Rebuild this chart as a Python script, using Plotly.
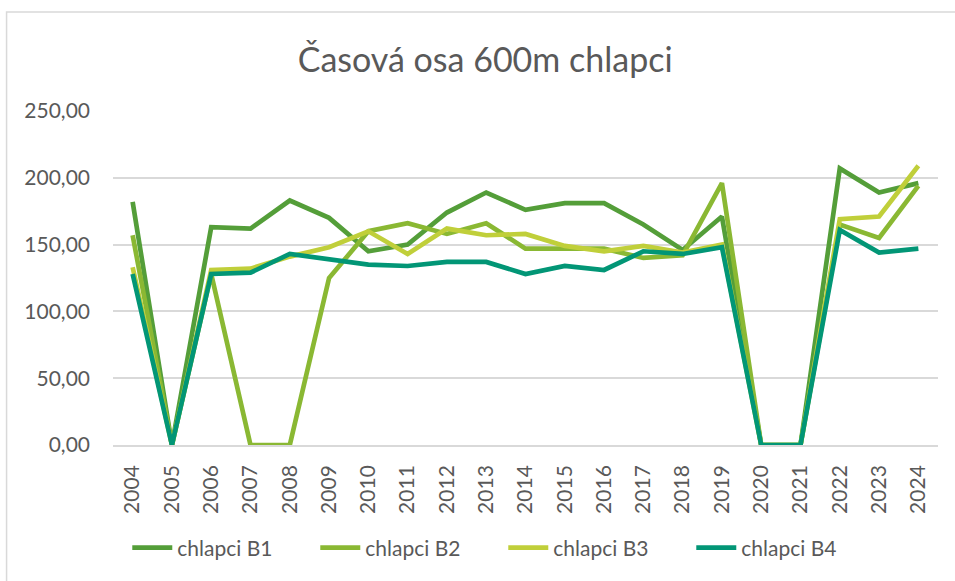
import plotly.graph_objects as go

years = [str(y) for y in range(2004, 2025)]
b1 = [182, 0, 163, 162, 183, 170, 145, 150, 174, 189, 176, 181, 181, 165, 146, 171, 0, 0, 207, 189, 196]
b2 = [157, 0, 128, 0, 0, 125, 160, 166, 158, 166, 147, 147, 147, 140, 142, 196, 0, 0, 165, 155, 194]
b3 = [133, 0, 131, 132, 141, 148, 160, 143, 162, 157, 158, 149, 145, 149, 144, 150, 0, 0, 169, 171, 209]
b4 = [128, 0, 128, 129, 143, 139, 135, 134, 137, 137, 128, 134, 131, 145, 143, 148, 0, 0, 161, 144, 147]
names = ["chlapci B1", "chlapci B2", "chlapci B3", "chlapci B4"]
colors = ["#549E39", "#8AB833", "#C0CF3A", "#029676"]
title_text = "Časová osa 600m chlapci"

W, H = 955, 581
L, R, T, B = 112.5, 17, 111, 136
pw, ph = W - L - R, H - T - B

fig = go.Figure()
for name, vals, c in zip(names, [b1, b2, b3, b4], colors):
    fig.add_trace(go.Scatter(x=years, y=vals, name=name, mode="lines",
                             line=dict(color=c, width=4.7)))

font = "Lato, 'Open Sans', sans-serif"
fig.update_layout(
    width=W, height=H,
    margin=dict(l=L, r=R, t=T, b=B),
    paper_bgcolor="white", plot_bgcolor="white",
    separators=", ",
    font=dict(family=font, color="#595959", size=21),
    title=dict(text=title_text, x=0.508, xref="container", xanchor="center",
               y=1 - 60 / H, yref="container", yanchor="middle",
               font=dict(size=34, color="#595959", family=font)),
    xaxis=dict(type="category", range=[-0.5, 20.5], showgrid=False,
               showline=True, linecolor="#d9d9d9", linewidth=1.5,
               tickangle=-90, ticks="", ticklabelstandoff=10,
               tickfont=dict(size=21, color="#595959")),
    yaxis=dict(range=[0, 250], dtick=50, tickformat=".2f",
               showgrid=True, gridcolor="#d9d9d9", gridwidth=1.5,
               zeroline=False, showline=False, ticks="",
               ticklabelstandoff=22,
               tickfont=dict(size=21, color="#595959")),
    legend=dict(orientation="h", xref="container", x=0.527, xanchor="center",
                yref="container", y=1 - 548 / H, yanchor="middle",
                font=dict(size=21, color="#595959"),
                entrywidth=133, entrywidthmode="pixels",
                itemwidth=40, tracegroupgap=0),
    showlegend=True,
)

# chart border (only top and left edges visible in the reference)
fig.add_shape(type="rect", xref="paper", yref="paper",
              x0=(6 - L) / pw, x1=(W + 10 - L) / pw,
              y0=(H - B - (H + 10)) / ph, y1=(H - B - 12) / ph,
              line=dict(color="#d9d9d9", width=1.5), fillcolor="rgba(0,0,0,0)",
              layer="below")

fig.write_html("out.html", config={"displayModeBar": False},
               post_script="document.body.style.margin='0px';document.body.style.overflow='hidden';")
